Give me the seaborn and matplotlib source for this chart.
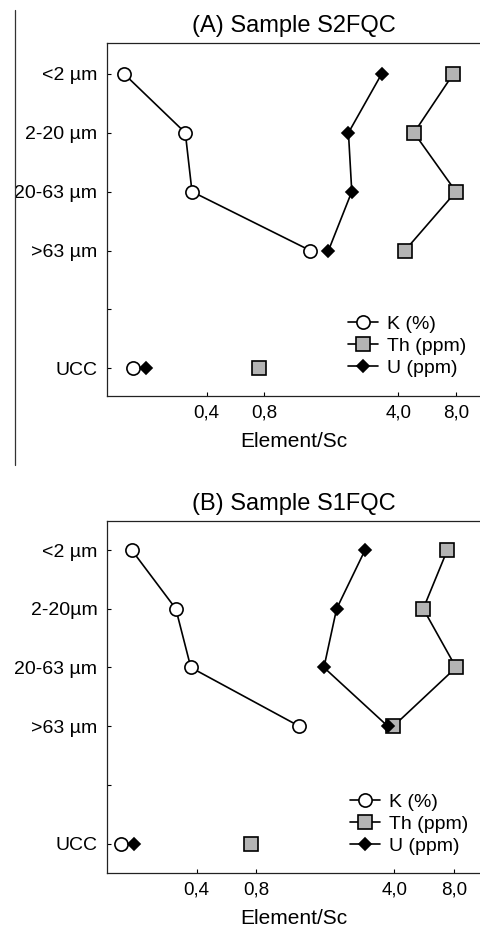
import matplotlib
matplotlib.use('Agg')
import matplotlib.pyplot as plt
from matplotlib.lines import Line2D
from matplotlib.ticker import NullLocator
import seaborn as sns

# Data (Element/Sc ratios, log axis)
sizes_a = ['<2 µm', '2-20 µm', '20-63 µm', '>63 µm']
sizes_b = ['<2 µm', '2-20µm', '20-63 µm', '>63 µm']

a_k = [0.148, 0.309, 0.335, 1.39]
a_th = [7.77, 4.84, 8.02, 4.34]
a_u = [3.28, 2.20, 2.29, 1.73]
a_ucc = {'K': 0.164, 'Th': 0.750, 'U': 0.192}

b_k = [0.188, 0.314, 0.374, 1.32]
b_th = [7.40, 5.59, 8.19, 3.95]
b_u = [2.84, 2.04, 1.76, 3.70]
b_ucc = {'K': 0.165, 'Th': 0.750, 'U': 0.193}

xticks = [0.4, 0.8, 4.0, 8.0]
xticklabels = ['0,4', '0,8', '4,0', '8,0']

sns.set_style('ticks')
plt.rcParams['font.family'] = ['Liberation Sans', 'DejaVu Sans']
plt.rcParams['text.color'] = 'black'
plt.rcParams['axes.labelcolor'] = 'black'

fig = plt.figure(figsize=(4.81, 9.30), dpi=100)

# marker styles for each element
styles = {
    'K': dict(marker='o', markersize=9.5, markerfacecolor='white'),
    'Th': dict(marker='s', markersize=9.5, markerfacecolor='#b4b4b4'),
    'U': dict(marker='D', markersize=6.5, markerfacecolor='black'),
}
labels = {'K': 'K (%)', 'Th': 'Th (ppm)', 'U': 'U (ppm)'}


def draw_panel(ax, title, sizes, k, th, u, ucc, xlim, ylim, leg_xy):
    pos = [0, 1, 2, 3]
    for name, vals in [('K', k), ('Th', th), ('U', u)]:
        sns.lineplot(x=vals, y=pos, orient='y', ax=ax, color='black',
                     linewidth=1.2, markeredgecolor='black', markeredgewidth=1.2,
                     label=labels[name], **styles[name])
        # UCC point is not connected to the size fractions
        sns.lineplot(x=[ucc[name]], y=[5], orient='y', ax=ax, color='black',
                     linewidth=0, markeredgecolor='black', markeredgewidth=1.2,
                     **styles[name])
    ax.set_xscale('log')
    ax.set_xlim(*xlim)
    ax.set_ylim(*ylim)
    ax.set_xticks(xticks)
    ax.set_xticklabels(xticklabels)
    ax.xaxis.set_minor_locator(NullLocator())
    ax.set_yticks([0, 1, 2, 3, 4, 5])
    ax.set_yticklabels(sizes + ['', 'UCC'])
    ax.tick_params(direction='in', length=3, width=0.8, colors='black')
    ax.tick_params(axis='x', labelsize=13.5, pad=6)
    ax.tick_params(axis='y', labelsize=14, pad=7)
    ax.set_xlabel('Element/Sc', fontsize=15, labelpad=8)
    ax.set_ylabel('')
    ax.set_title(title, fontsize=17, pad=8, color='black')
    ax.spines['right'].set_visible(False)
    for s in ['left', 'top', 'bottom']:
        ax.spines[s].set_linewidth(0.9)
        ax.spines[s].set_color('#222222')
    handles, labs = ax.get_legend_handles_labels()
    ax.legend(handles, labs, loc='upper left', bbox_to_anchor=leg_xy,
              frameon=False, fontsize=14, borderpad=0, borderaxespad=0,
              handlelength=1.55, handletextpad=0.45, labelspacing=0.22)


ax_a = fig.add_axes([0.2225, 0.5742, 0.7775, 0.3796])
draw_panel(ax_a, '(A) Sample S2FQC', sizes_a, a_k, a_th, a_u, a_ucc,
           (0.1205, 10.84), (5.47, -0.525), (0.644, 0.228))

ax_b = fig.add_axes([0.2225, 0.0613, 0.7775, 0.3788])
draw_panel(ax_b, '(B) Sample S1FQC', sizes_b, b_k, b_th, b_u, b_ucc,
           (0.141, 10.95), (5.5, -0.5), (0.65, 0.226))

# stray vertical rule on the left of panel A
fig.add_artist(Line2D([15 / 481, 15 / 481], [1 - 10 / 930, 1 - 465 / 930],
                      color='#333333', linewidth=0.9))

fig.savefig('out.png', dpi=100)
